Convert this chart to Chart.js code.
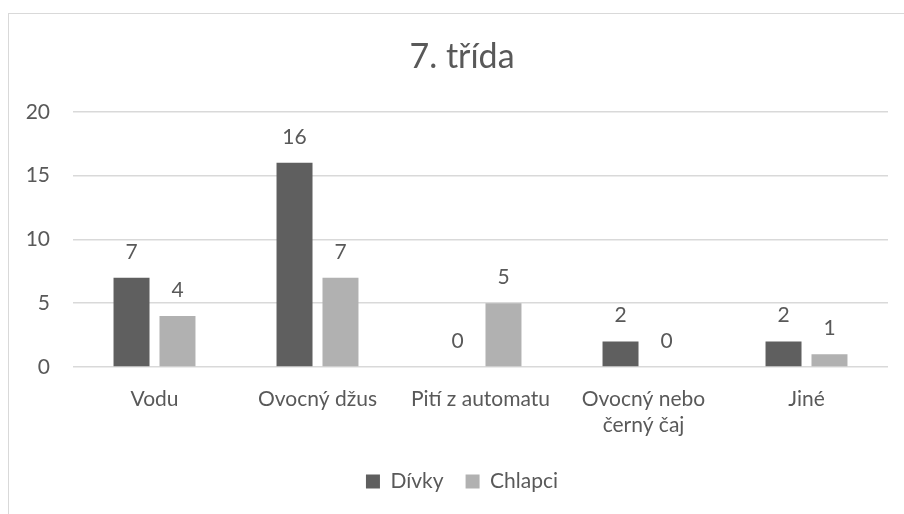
<!DOCTYPE html>
<html>
<head>
<meta charset="utf-8">
<script src="https://cdn.jsdelivr.net/npm/chart.js@4"></script>
<style>
  html, body { margin: 0; padding: 0; background: #fff; overflow: hidden; }
  #wrap { position: relative; width: 904px; height: 514px; }
  #frame { position: absolute; left: 8px; top: 13px; width: 1000px; height: 600px;
           border: 1.5px solid #d9d9d9; box-sizing: border-box; }
  #chart { position: absolute; left: 0; top: 0; }
</style>
</head>
<body>
<div id="wrap">
  <div id="frame"></div>
  <canvas id="chart" width="904" height="514"></canvas>
</div>
<script>
// data
const categories = ['Vodu', 'Ovocný džus', 'Pití z automatu', ['Ovocný nebo', 'černý čaj'], 'Jiné'];
const divky = [7, 16, 0, 2, 2];
const chlapci = [4, 7, 5, 0, 1];
const yTicks = [0, 5, 10, 15, 20];

const textColor = '#595959';
const fontName = 'Lato';

// simple value labels above the bars (no datalabels plugin available)
const valueLabels = {
    id: 'valueLabels',
    afterDatasetsDraw(chart) {
        const ctx = chart.ctx;
        ctx.save();
        ctx.font = '21px ' + fontName;
        ctx.fillStyle = textColor;
        ctx.textAlign = 'center';
        ctx.textBaseline = 'alphabetic';
        chart.data.datasets.forEach((ds, i) => {
            const meta = chart.getDatasetMeta(i);
            meta.data.forEach((bar, j) => {
                ctx.fillText(String(ds.data[j]), bar.x, bar.y - 19);
            });
        });
        ctx.restore();
    }
};

// title and legend sit a bit right of the canvas centre in the original
const shiftBlocks = {
    id: 'shiftBlocks',
    afterLayout(chart) {
        if (chart.titleBlock) chart.titleBlock.left += 36;
        if (chart.legend) chart.legend.left += 36;
    }
};

new Chart(document.getElementById('chart'), {
    type: 'bar',
    data: {
        labels: categories,
        datasets: [
            { label: 'Dívky', data: divky, backgroundColor: '#5f5f5f' },
            { label: 'Chlapci', data: chlapci, backgroundColor: '#b1b1b1' }
        ]
    },
    options: {
        responsive: false,
        animation: false,
        categoryPercentage: 0.564,
        barPercentage: 0.783,
        layout: { padding: { left: 0, right: 16, top: 0, bottom: 12 } },
        scales: {
            y: {
                min: 0,
                max: 20,
                afterBuildTicks(scale) {
                    scale.ticks = yTicks.map(v => ({ value: v }));
                },
                afterFit(scale) { scale.width = 73; },
                border: { display: false },
                grid: { color: '#d9d9d9', lineWidth: 1.5, drawTicks: false },
                ticks: {
                    padding: 23,
                    color: textColor,
                    font: { family: fontName, size: 21 }
                }
            },
            x: {
                afterFit(scale) { scale.height = 82; },
                border: { display: false },
                grid: { display: false, drawTicks: false },
                ticks: {
                    padding: 20,
                    color: textColor,
                    maxRotation: 0,
                    autoSkip: false,
                    font: { family: fontName, size: 21, lineHeight: 1.2 }
                }
            }
        },
        plugins: {
            title: {
                display: true,
                text: '7. třída',
                color: textColor,
                font: { family: fontName, size: 34, weight: '400' },
                padding: { top: 37, bottom: 34 }
            },
            legend: {
                position: 'bottom',
                labels: {
                    boxWidth: 14,
                    boxHeight: 14,
                    padding: 22,
                    color: textColor,
                    font: { family: fontName, size: 21 }
                }
            },
            tooltip: { enabled: false }
        }
    },
    plugins: [valueLabels, shiftBlocks]
});
</script>
</body>
</html>
